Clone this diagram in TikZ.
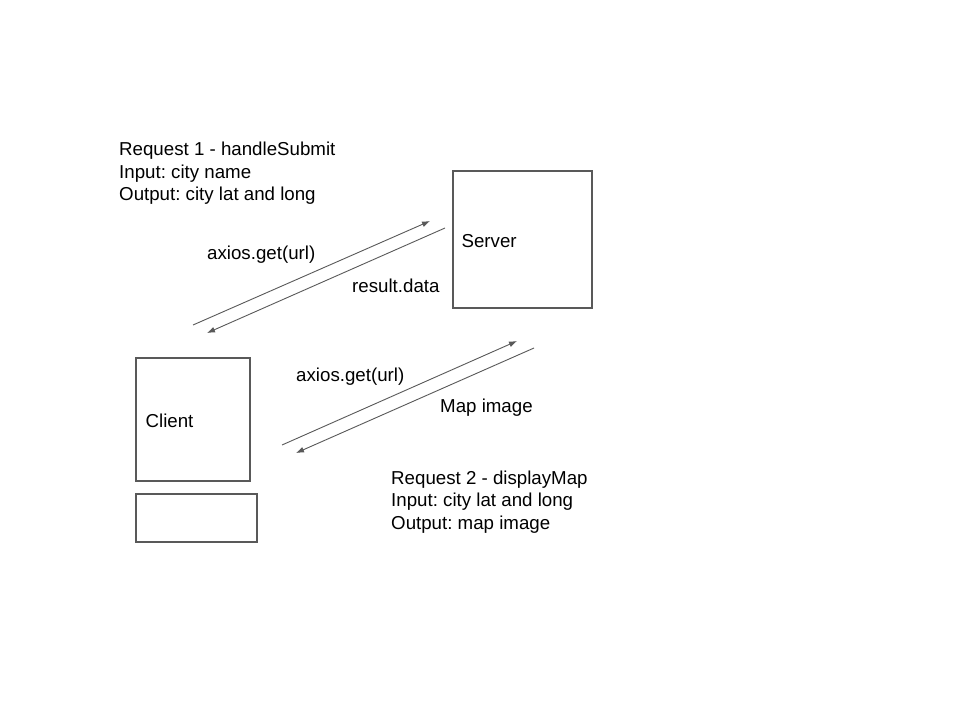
\documentclass[tikz,border=0pt]{standalone}
\usepackage{fontspec}
\setmainfont{Liberation Sans}
\usetikzlibrary{arrows.meta}
\frenchspacing

\begin{document}
\begin{tikzpicture}[x=1pt,y=-1pt,>={Latex[length=8pt,width=6pt]}]
    \tikzstyle{every node}=[font=\fontsize{18.7}{22.5}\selectfont,inner sep=0pt];
    \tikzstyle{box}=[draw=black!65,line width=1.2pt,minimum width=#1,shape=rectangle];
    \tikzstyle{msg}=[draw=black!65,line width=0.9pt,->];

    \useasboundingbox[fill=white] (0,0) rectangle (960,720);

    % boxes
    \node[box=139pt,minimum height=137pt] (server) at (522.5,239.5) {};
    \node[box=114pt,minimum height=123pt] (client) at (193,419.5) {};
    \node[box=121pt,minimum height=48pt] (spare) at (196.5,518) {};
    \node[anchor=west] (serverlbl) at ([xshift=9pt,yshift=-2pt]server.west) {Server};
    \node[anchor=west] (clientlbl) at ([xshift=10pt,yshift=-1pt]client.west) {Client};

    % request texts (base = last line)
    \node[anchor=base west,align=left] (req1) at (119,200.7)
        {Request 1 - handleSubmit\\Input: city name\\Output: city lat and long};
    \node[anchor=base west,align=left] (req2) at (391,529)
        {Request 2 - displayMap\\Input: city lat and long\\Output: map image};

    % arrow ends
    \coordinate (a1s) at (193,325);
    \coordinate (a1e) at (430,221);
    \coordinate (a2s) at (445,228);
    \coordinate (a2e) at (207,333);
    \coordinate (a3s) at (282,445);
    \coordinate (a3e) at (517,341);
    \coordinate (a4s) at (534,348);
    \coordinate (a4e) at (296,453);

    \draw[msg] (a1s) -- (a1e);
    \draw[msg] (a2s) -- (a2e);
    \draw[msg] (a3s) -- (a3e);
    \draw[msg] (a4s) -- (a4e);

    % arrow labels
    \node[anchor=base west] (get1) at (207,259.5) {axios.get(url)};
    \node[anchor=base west] (res1) at (352,292.5) {result.data};
    \node[anchor=base west] (get2) at (296,381.5) {axios.get(url)};
    \node[anchor=base west] (res2) at (440,412.5) {Map image};
\end{tikzpicture}
\end{document}
